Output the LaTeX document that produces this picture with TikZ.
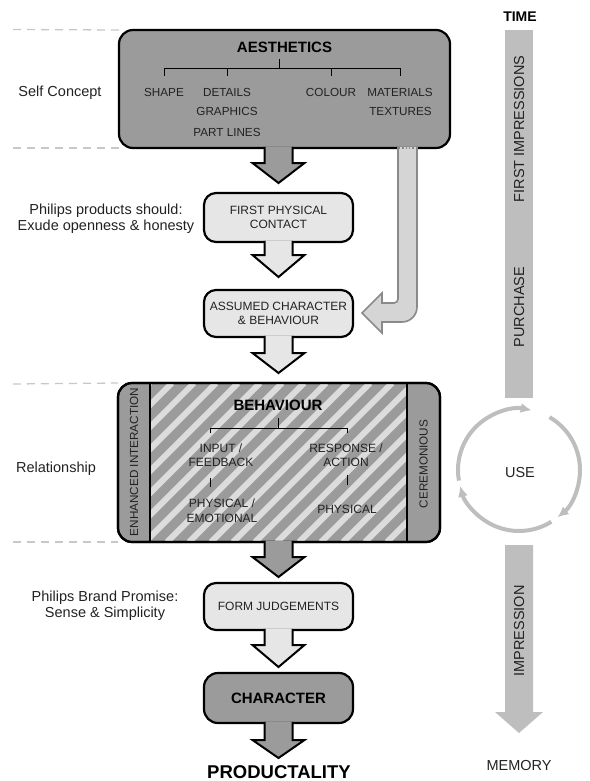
\documentclass[tikz,border=0pt]{standalone}
\usepackage{fontspec}
\setmainfont{Liberation Sans}
\usetikzlibrary{arrows.meta,calc}
\definecolor{boxdark}{HTML}{9B9B9B}
\definecolor{boxlight}{HTML}{E6E6E6}
\definecolor{sidefill}{HTML}{D5D5D5}
\definecolor{sideline}{HTML}{8A8A8A}
\definecolor{timegray}{HTML}{BEBEBE}
\definecolor{dashgray}{HTML}{C8C8C8}
\definecolor{hatchlight}{HTML}{DCDCDC}
\definecolor{txt}{HTML}{222222}
\begin{document}
\begin{tikzpicture}[x=1pt,y=1pt,
  darkbox/.style={draw=black,line width=2.2pt,fill=boxdark,rounded corners=14pt,inner sep=0pt,outer sep=0pt},
  lightbox/.style={draw=black,line width=2.2pt,fill=boxlight,rounded corners=12pt,inner sep=0pt,outer sep=0pt},
  darkarrow/.style={draw=black,line width=2pt,fill=boxdark,line join=miter},
  lightarrow/.style={draw=black,line width=2pt,fill=boxlight,line join=miter},
  sidearrow/.style={draw=sideline,line width=1.6pt,fill=sidefill,line join=miter},
  small/.style={font=\fontsize{12}{14}\selectfont,text=txt,inner sep=0pt,anchor=base},
  sub/.style={font=\fontsize{11.7}{13}\selectfont,text=txt,inner sep=0pt,anchor=base},
  boxtext/.style={font=\fontsize{12}{14.5}\selectfont,text=txt,align=center},
  head/.style={font=\bfseries\fontsize{15}{16}\selectfont,inner sep=0pt,anchor=base},
  lbl/.style={font=\fontsize{14.5}{15.5}\selectfont,text=txt,align=center,inner sep=0pt},
  side/.style={font=\fontsize{14.5}{15}\selectfont,text=txt,inner sep=0pt},
  guide/.style={draw=dashgray,line width=1.3pt,dash pattern=on 8pt off 6pt},
  tree/.style={draw=black,line width=1pt},
  cycarrow/.style={draw=timegray,line width=4pt,-{Latex[length=11pt,width=10pt]}},
]
\useasboundingbox (0,0) rectangle (589,-781);

% ---------------- boxes ----------------
\node[darkbox,minimum width=331pt,minimum height=118pt] (aes) at (284.5,-89) {};
\node[lightbox,boxtext,minimum width=149pt,minimum height=49pt] (fpc) at (278.5,-217.5) {FIRST PHYSICAL\\CONTACT};
\node[lightbox,boxtext,minimum width=149pt,minimum height=47pt] (acb) at (278.5,-313.5) {ASSUMED CHARACTER\\\& BEHAVIOUR};
\node[darkbox,minimum width=322pt,minimum height=159pt] (beh) at (279,-462.5) {};
\node[lightbox,boxtext,minimum width=149pt,minimum height=47pt] (fj) at (278.5,-606.5) {FORM JUDGEMENTS};
\node[darkbox,minimum width=149pt,minimum height=50pt,font=\bfseries\fontsize{15}{16}\selectfont] (chr) at (278.5,-698) {CHARACTER};

% ---------------- behaviour hatching ----------------
\begin{scope}
  \clip ([xshift=32pt]beh.south west) rectangle ([xshift=-33pt]beh.north east);
  \foreach \i in {0,...,19}
    \draw[hatchlight,line width=6pt] (-9+22*\i,-542) -- ++(159,159);
\end{scope}
\draw[line width=2.2pt,rounded corners=14pt] (beh.south west) rectangle (beh.north east);
\draw[line width=1.5pt] ([xshift=32pt]beh.north west) -- ([xshift=32pt]beh.south west);
\draw[line width=1.5pt] ([xshift=-33pt]beh.north east) -- ([xshift=-33pt]beh.south east);

% ---------------- block arrows ----------------
\draw[darkarrow,shift={(aes.south -| fpc.north)}] (-14,1.2) -- (-14,-15) -- (-26,-15) -- (0,-35) -- (26,-15) -- (14,-15) -- (14,1.2);
\draw[lightarrow,shift={(fpc.south)}] (-14,1.2) -- (-14,-13) -- (-26,-13) -- (0,-35) -- (26,-13) -- (14,-13) -- (14,1.2);
\draw[lightarrow,shift={(acb.south)}] (-14,1.2) -- (-14,-16) -- (-26,-16) -- (0,-36) -- (26,-16) -- (14,-16) -- (14,1.2);
\draw[darkarrow,shift={(beh.south -| fj.north)}] (-14,1.2) -- (-14,-15) -- (-26,-15) -- (0,-35) -- (26,-15) -- (14,-15) -- (14,1.2);
\draw[lightarrow,shift={(fj.south)}] (-14,1.2) -- (-14,-15) -- (-26,-15) -- (0,-37) -- (26,-15) -- (14,-15) -- (14,1.2);
\draw[darkarrow,shift={(chr.south)}] (-14,1.2) -- (-14,-17) -- (-26,-17) -- (0,-35) -- (26,-17) -- (14,-17) -- (14,1.2);

% side arrow from aesthetics to assumed character
\coordinate (sidetip) at ($(acb.east)+(9,0.5)$);
\draw[sidearrow,shift={(sidetip)}] (36,166.2) -- (36,14) arc[start angle=0,end angle=-90,radius=4pt] -- (20,10) -- (20,20) -- (0,0) -- (20,-20) -- (20,-9) -- (40,-9) arc[start angle=-90,end angle=0,radius=15pt] -- (55,166.2);
\draw[sideline,dotted,line width=1.3pt] ($(sidetip)+(37,165)$) -- ($(sidetip)+(54,165)$);

% ---------------- aesthetics content ----------------
\node[head] (aestitle) at (284.5,-53) {AESTHETICS};
\node[sub] (shape) at (164,-96.7) {SHAPE};
\node[sub] (details) at (227,-96.7) {DETAILS};
\node[sub] (graphics) at (227,-116) {GRAPHICS};
\node[sub] (partlines) at (227,-136) {PART LINES};
\node[sub] (colour) at (331,-96.7) {COLOUR};
\node[sub] (materials) at (400,-96.7) {MATERIALS};
\node[sub] (textures) at (400.5,-116) {TEXTURES};
\coordinate (aesbar) at (279,-69);
\draw[tree] ($(aesbar)+(0,10)$) -- (aesbar);
\draw[tree] ($(shape.base |- aesbar)+(0,-7)$) -- (shape.base |- aesbar) -- (materials.base |- aesbar) -- ($(materials.base |- aesbar)+(0,-7)$);
\draw[tree] (details.base |- aesbar) -- ($(details.base |- aesbar)+(0,-7)$);
\draw[tree] (colour.base |- aesbar) -- ($(colour.base |- aesbar)+(0,-7)$);

% ---------------- behaviour content ----------------
\node[head] (behtitle) at (278,-410) {BEHAVIOUR};
\node[small] (input) at (221,-452) {INPUT /};
\node[small] (feedback) at (221,-466) {FEEDBACK};
\node[small] (response) at (346,-452) {RESPONSE /};
\node[small] (action) at (346,-466) {ACTION};
\node[small] (physemo) at (222,-507) {PHYSICAL /};
\node[small] (emotional) at (222,-522) {EMOTIONAL};
\node[small] (physical) at (347,-513) {PHYSICAL};
\coordinate (behbar) at (278,-428);
\draw[tree] ($(behbar)+(0,10)$) -- (behbar);
\draw[tree] (210,-433) -- (210,-428) -- (347,-428) -- (347,-433);
\draw[tree] (210,-478) -- (210,-487);
\draw[tree] (347,-475) -- (347,-485);
\node[font=\fontsize{11.7}{13}\selectfont,text=txt,inner sep=0pt,rotate=90] (enh) at (134,-462) {ENHANCED INTERACTION};
\node[font=\fontsize{11.7}{13}\selectfont,text=txt,inner sep=0pt,rotate=90] (cer) at (423.5,-464) {CEREMONIOUS};

% ---------------- bottom label ----------------
\node[font=\bfseries\fontsize{18.5}{20}\selectfont,inner sep=0pt,anchor=base] (prod) at (279,-778.5) {PRODUCTALITY};

% ---------------- left labels and guides ----------------
\draw[guide] (13,-29.5) -- (aes.north west);
\draw[guide] (13,-148) -- (aes.south west);
\draw[guide] (13,-384) -- (beh.north west);
\draw[guide] (13,-542) -- (beh.south west);
\node[lbl,anchor=base] (selfc) at (60,-96.7) {Self Concept};
\node[lbl] (phil1) at (106,-218.5) {Philips products should:\\Exude openness \& honesty};
\node[lbl,anchor=base] (rel) at (56,-472) {Relationship};
\node[lbl] (phil2) at (105,-605.5) {Philips Brand Promise:\\Sense \& Simplicity};

% ---------------- time axis ----------------
\node[font=\bfseries\fontsize{14}{15}\selectfont,inner sep=0pt,anchor=base] (time) at (520,-22) {TIME};
\node[fill=timegray,minimum width=28pt,minimum height=368pt,inner sep=0pt] (bar) at (519,-214) {};
\node[side,rotate=90] (firstimp) at (519,-129) {FIRST IMPRESSIONS};
\node[side,rotate=90] (purchase) at (519,-307) {PURCHASE};
\coordinate (usec) at (519,-470);
\node[side] (use) at (520,-472.8) {USE};
\draw[cycarrow] ([shift={(190:61pt)}]usec) arc[start angle=190,end angle=78,radius=61pt];
\draw[cycarrow] ([shift={(60:61pt)}]usec) arc[start angle=60,end angle=-51,radius=61pt];
\draw[cycarrow] ([shift={(-58:61pt)}]usec) arc[start angle=-58,end angle=-165,radius=61pt];
\coordinate (imptop) at (519,-545);
\fill[timegray,shift={(imptop)}] (-14,0) -- (-14,-167) -- (-24,-167) -- (0,-188) -- (24,-167) -- (14,-167) -- (14,0) -- cycle;
\node[side,rotate=90] (imp) at (519,-631) {IMPRESSION};
\node[side,anchor=base] (mem) at (519,-770) {MEMORY};
\end{tikzpicture}
\end{document}
